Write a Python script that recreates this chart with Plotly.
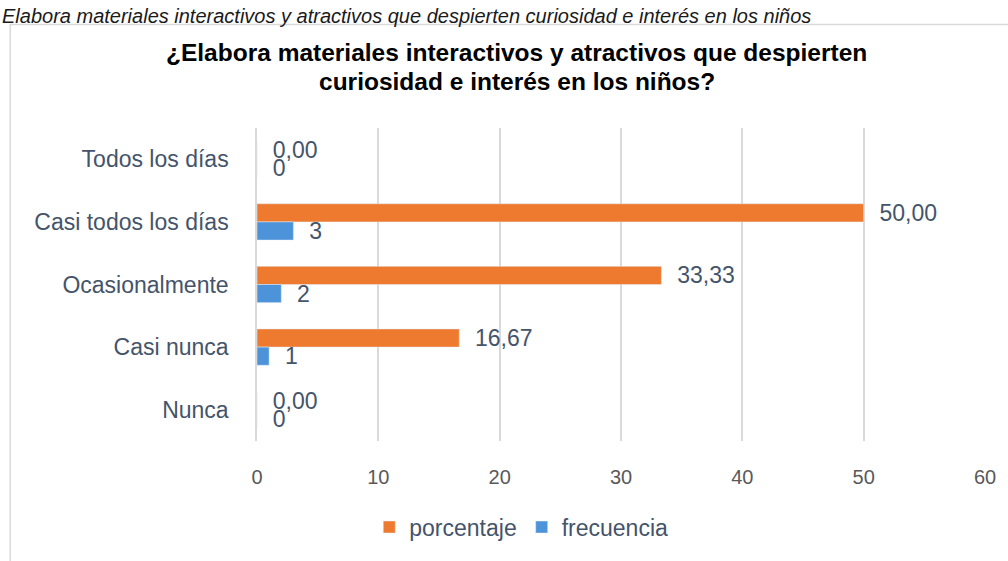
import plotly.graph_objects as go

categorias = ["Todos los días", "Casi todos los días", "Ocasionalmente", "Casi nunca", "Nunca"]
porcentaje = [0.00, 50.00, 33.33, 16.67, 0.00]
frecuencia = [0, 3, 2, 1, 0]
ticks_x = [0, 10, 20, 30, 40, 50, 60]

titulo_1 = "¿Elabora materiales interactivos y atractivos que despierten"
titulo_2 = "curiosidad e interés en los niños?"
leyenda_sup = "Elabora materiales interactivos y atractivos que despierten curiosidad e interés en los niños"

color_texto = "#44546A"
fuente = "Liberation Sans, Arial, sans-serif"

fig = go.Figure()

fig.add_trace(go.Bar(
    y=categorias,
    x=porcentaje,
    orientation='h',
    name="porcentaje",
    marker=dict(color="#EE7A2F"),
    texttemplate="\u00a0\u00a0%{x:.2f}",
    textposition="outside",
    constraintext="none",
    cliponaxis=False,
    textfont=dict(size=23, color=color_texto, family=fuente),
))

fig.add_trace(go.Bar(
    y=categorias,
    x=frecuencia,
    orientation='h',
    name="frecuencia",
    marker=dict(color="#4D93DA"),
    texttemplate="\u00a0\u00a0%{x}",
    textposition="outside",
    constraintext="none",
    cliponaxis=False,
    textfont=dict(size=23, color=color_texto, family=fuente),
))

# marco del gráfico
fig.add_shape(
    type="rect", xref="paper", yref="paper",
    x0=-0.339, x1=1.04, y0=-0.5, y1=1.331,
    line=dict(color="#D9D9D9", width=1.5),
    fillcolor="rgba(0,0,0,0)",
)

# texto superior (pie de figura del documento)
fig.add_annotation(
    xref="paper", yref="paper",
    x=-0.353, y=1.4, xanchor="left", yanchor="top",
    text="<i>" + leyenda_sup + "</i>",
    showarrow=False,
    font=dict(size=20, color="#1a1a1a", family=fuente),
)

# título en dos líneas
for texto, yy in [(titulo_1, 1.24), (titulo_2, 1.15)]:
    fig.add_annotation(
        xref="paper", yref="paper",
        x=0.357, y=yy, xanchor="center", yanchor="middle",
        text="<b>" + texto + "</b>",
        showarrow=False,
        font=dict(size=24.5, color="#000000", family=fuente),
    )

fig.update_layout(
    width=1008,
    height=561,
    margin=dict(l=257, r=23, t=128, b=113),
    paper_bgcolor="white",
    plot_bgcolor="white",
    separators=",.",
    barmode="group",
    bargap=0.42,
    bargroupgap=0,
    font=dict(family=fuente, color=color_texto),
    showlegend=True,
    legend=dict(
        orientation="h",
        xref="paper", yref="paper",
        x=0.363, xanchor="center",
        y=-0.275, yanchor="middle",
        font=dict(size=23, color=color_texto, family=fuente),
        itemwidth=30,
    ),
)

fig.update_xaxes(
    range=[0, 60],
    tickvals=ticks_x,
    showgrid=True,
    gridcolor="#D9D9D9",
    gridwidth=1.5,
    zeroline=False,
    showline=False,
    tickfont=dict(size=20, color="#595959", family=fuente),
    ticklabelstandoff=22,
)

fig.update_yaxes(
    autorange="reversed",
    showgrid=False,
    showline=True,
    linecolor="#D9D9D9",
    linewidth=1.5,
    tickfont=dict(size=23, color=color_texto, family=fuente),
    ticklabelstandoff=22,
)

fig.write_html("out.html", config={"displayModeBar": False},
               post_script="document.body.style.margin='0';")
